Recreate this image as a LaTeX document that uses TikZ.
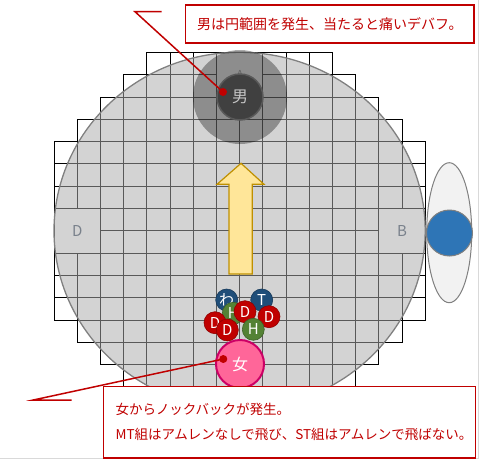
\documentclass[tikz,border=0pt]{standalone}
\usepackage{fontspec}
\setmainfont{Noto Sans CJK JP}
\usepackage{tikz}
\definecolor{noteRed}{HTML}{C00000}
\definecolor{labelGray}{HTML}{44546A}
\definecolor{fieldGray}{gray}{0.67}
\definecolor{tankBlue}{HTML}{1F4E79}
\definecolor{healGreen}{HTML}{548235}
\definecolor{dpsRed}{HTML}{C00000}
\definecolor{bossBlue}{HTML}{2E75B6}
\definecolor{arrowEdge}{HTML}{BF9000}
\definecolor{arrowFill}{HTML}{FFE699}
\definecolor{womanEdge}{HTML}{CC0066}
\definecolor{womanFill}{HTML}{FF6699}

\begin{document}
\begin{tikzpicture}[x=1pt, y=-1pt,
  cell/.style = {draw=black, line width=0.8pt},
  field label/.style = {text=labelGray, font=\fontsize{15}{15}\selectfont},
  member/.style = {circle, draw=#1!75!black, line width=0.6pt, fill=#1, text=white,
    minimum size=22pt, inner sep=0pt, font=\fontsize{15}{15}\selectfont},
  note/.style = {draw=noteRed, line width=1.3pt, fill=white, text=noteRed,
    font=\fontsize{13.5}{25}\selectfont},
  leader/.style = {draw=noteRed, line width=1.5pt},
  dot/.style = {circle, fill=noteRed, inner sep=0pt, minimum size=8pt}]
  \useasboundingbox (0,0) rectangle (480,461);
  \draw[gray!30, line width=0.8pt] (0,458.3) -- (478.3,458.3) -- (478.3,0);

  \foreach \n [count=\r from 0] in {8,10,12,14,16,16,16,16,16,16,16,16,14,12,10,8} {
    \pgfmathtruncatemacro\s{(16-\n)/2}
    \pgfmathtruncatemacro\e{\s+\n-1}
    \foreach \c in {\s,...,\e}
      \draw[cell] (54+\c*23.2, 52.3+\r*22.3) rectangle ++(23.2, 22.3);
  }
  \foreach \c/\r in {7/0, 0/7, 14/7, 7/14}
    \draw[cell, fill=white] (54+\c*23.2, 52.3+\r*22.3) rectangle ++(46.4, 44.6);
  \node[field label, font=\fontsize{11}{11}\selectfont, text=gray] (markA) at (240,74.6) {A};
  \node[field label] (markD) at (77.2,230.7) {D};
  \node[field label] (markB) at (402,230.7) {B};

  \draw[draw=gray, line width=1.3pt, fill=fieldGray, fill opacity=0.52]
    (239.6,230.7) ellipse [x radius=185.6, y radius=178.4];

  \fill[black, fill opacity=0.33] (240,97) circle [radius=47];
  \node[circle, draw=black!65, line width=1.5pt, fill=black!75, text=black!22,
    minimum size=46pt, inner sep=0pt, font=\fontsize{16}{16}\selectfont] (man) at (240,97) {男};

  \draw[draw=arrowEdge, line width=1.2pt, fill=arrowFill]
    (241,163.3) -- (264,184.3) -- (252.3,184.3) -- (252.3,274) -- (229,274)
    -- (229,184.3) -- (217,184.3) -- cycle;

  \draw[draw=gray, line width=1pt, fill=black!5] (449.2,232.7) ellipse [x radius=22.5, y radius=70];
  \node[circle, draw=gray, line width=1pt, fill=bossBlue, minimum size=46pt, inner sep=0pt]
    (boss) at (449.5,233) {};

  \node[member=tankBlue] (wa) at (226.7,300) {わ};
  \node[member=tankBlue] (tank) at (261.7,300) {T};
  \node[member=healGreen] (healA) at (233.3,313.3) {H};
  \node[member=dpsRed] (dpsA) at (245,311.7) {D};
  \node[member=dpsRed] (dpsB) at (269,316.7) {D};
  \node[member=dpsRed] (dpsC) at (215,322.7) {D};
  \node[member=dpsRed] (dpsD) at (227.3,330) {D};
  \node[member=healGreen] (healB) at (253.3,329.3) {H};

  \node[circle, draw=womanEdge, line width=2pt, fill=womanFill, text=white,
    minimum size=48pt, inner sep=0pt, font=\fontsize{16}{16}\selectfont] (woman) at (240,364) {女};

  \node[note, minimum width=288.3pt, minimum height=38pt, anchor=north west,
    font=\fontsize{14}{14}\selectfont]
    (topnote) at (185,4.3) {男は円範囲を発生、当たると痛いデバフ。};
  \coordinate (topbend) at (135,11.7);
  \coordinate (topend) at (161.7,11.7);
  \node[dot] (mandot) at (223,92) {};
  \draw[leader] (topend) -- (topbend) -- (mandot.center);

  \node[note, minimum width=372.3pt, minimum height=71.6pt, anchor=north west,
    align=left, text width=347.7pt, inner xsep=12.3pt]
    (bottomnote) at (102.7,385.7) {女からノックバックが発生。\\MT組はアムレンなしで飛び、ST組はアムレンで飛ばない。};
  \coordinate (bottombend) at (33.3,400);
  \coordinate (bottomend) at (71.7,400);
  \node[dot] (womandot) at (223.3,359) {};
  \draw[leader] (bottomend) -- (bottombend) -- (womandot.center);
\end{tikzpicture}
\end{document}
